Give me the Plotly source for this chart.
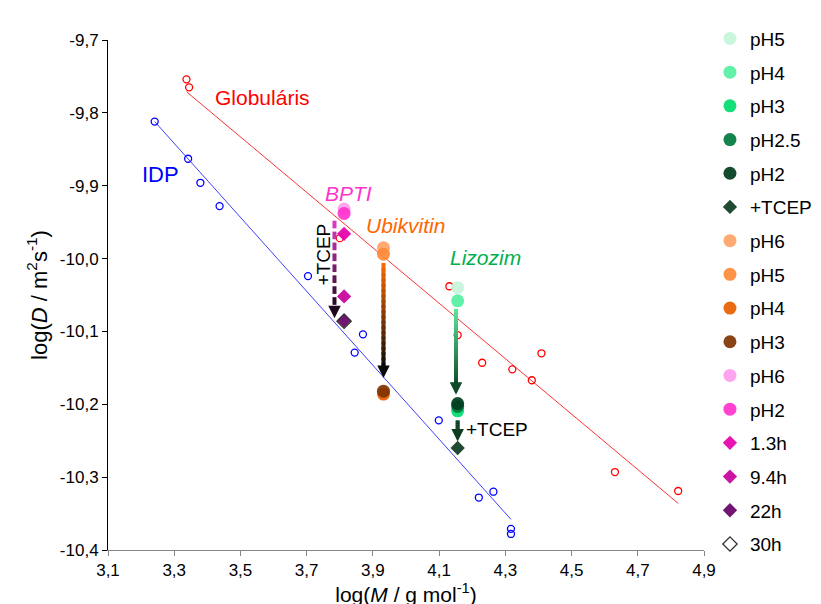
import plotly.graph_objects as go

# ---------------- data ----------------
glob_x = [3.337, 3.345, 3.800, 4.131, 4.156, 4.230, 4.321, 4.380, 4.409, 4.631, 4.822]
glob_y = [-9.754, -9.765, -9.972, -10.038, -10.105, -10.143, -10.152, -10.167, -10.130, -10.293, -10.319]
glob_fit_x = [3.337, 4.822]
glob_fit_y = [-9.771, -10.336]

idp_x = [3.241, 3.342, 3.379, 3.437, 3.704, 3.845, 3.870, 4.099, 4.220, 4.264, 4.317, 4.317]
idp_y = [-9.812, -9.863, -9.896, -9.928, -10.024, -10.129, -10.104, -10.222, -10.328, -10.320, -10.371, -10.378]
idp_fit_x = [3.241, 4.317]
idp_fit_y = [-9.812, -10.358]

# Lizozim
liz_x = 4.156
liz_names = ["pH5", "pH4", "pH3", "pH2.5", "pH2", "+TCEP"]
liz_y = [-10.040, -10.058, -10.209, -10.203, -10.199, -10.260]
liz_colors = ["#C4F5DA", "#55F0A2", "#00DC6E", "#007A3D", "#013D1E", "#0D3B1F"]
liz_symbols = ["circle", "circle", "circle", "circle", "circle", "diamond"]

# Ubikvitin
ubi_x = 3.932
ubi_names = ["pH6", "pH5", "pH4", "pH3"]
ubi_y = [-9.985, -9.994, -10.186, -10.182]
ubi_colors = ["#FFA366", "#FF8A3A", "#E85E00", "#7F3300"]

# BPTI
bpti_x = 3.813
bpti_names = ["pH6", "pH2", "1.3h", "9.4h", "22h", "30h"]
bpti_y = [-9.932, -9.938, -9.966, -10.052, -10.085, -10.086]
bpti_colors = ["#FF9CEE", "#FF33CC", "#E600AA", "#C8009A", "#660066", "rgba(0,0,0,0)"]
bpti_symbols = ["circle", "circle", "diamond", "diamond", "diamond", "diamond-open"]

# arrows (x, start y, tip y)
arrow_x = [3.784, 3.932, 4.151, 4.156]
arrow_y0 = [-9.948, -10.006, -10.069, -10.222]
arrow_y1 = [-10.082, -10.164, -10.187, -10.251]
arrow_c0 = [(230, 60, 200), (255, 106, 0), (94, 232, 156), (14, 61, 32)]
arrow_c1 = [(30, 8, 30), (10, 10, 10), (14, 74, 40), (14, 61, 32)]
arrow_dashed = [True, False, False, False]

x_ticks = [3.1, 3.3, 3.5, 3.7, 3.9, 4.1, 4.3, 4.5, 4.7, 4.9]
x_labels = ["3,1", "3,3", "3,5", "3,7", "3,9", "4,1", "4,3", "4,5", "4,7", "4,9"]
y_ticks = [-9.7, -9.8, -9.9, -10.0, -10.1, -10.2, -10.3, -10.4]
y_labels = ["-9,7", "-9,8", "-9,9", "-10,0", "-10,1", "-10,2", "-10,3", "-10,4"]

FONT = "Liberation Sans, Arial, sans-serif"

fig = go.Figure()

# fit lines
fig.add_trace(go.Scatter(x=glob_fit_x, y=glob_fit_y, mode="lines",
                         line=dict(color="#FF3030", width=1), showlegend=False, hoverinfo="skip"))
fig.add_trace(go.Scatter(x=idp_fit_x, y=idp_fit_y, mode="lines",
                         line=dict(color="#4040FF", width=1), showlegend=False, hoverinfo="skip"))
# open circles
fig.add_trace(go.Scatter(x=glob_x, y=glob_y, mode="markers", showlegend=False,
                         marker=dict(symbol="circle-open", size=7, color="#FF0000", line=dict(width=1.3))))
fig.add_trace(go.Scatter(x=idp_x, y=idp_y, mode="markers", showlegend=False,
                         marker=dict(symbol="circle-open", size=7, color="#0000FF", line=dict(width=1.3))))

# arrows: gradient shafts drawn as short overlapping segments
shapes = []
annotations = []
for ax_, y0, y1, c0, c1, dashed in zip(arrow_x, arrow_y0, arrow_y1, arrow_c0, arrow_c1, arrow_dashed):
    head = 0.014 if abs(y1 - y0) > 0.05 else 0.011
    ybase = y1 + head
    n = 8 if dashed else 20
    for i in range(n):
        t = (i + 0.5) / n
        col = tuple(int(round(a + (b - a) * t)) for a, b in zip(c0, c1))
        ya = y0 + (ybase - y0) * i / n
        if dashed:
            yb = y0 + (ybase - y0) * (i + 0.7) / n
        else:
            yb = y0 + (ybase - y0) * min(i + 1.6, n) / n
        shapes.append(dict(type="line", xref="x", yref="y", x0=ax_, x1=ax_, y0=ya, y1=yb,
                           line=dict(color="rgb(%d,%d,%d)" % col, width=4)))
    annotations.append(dict(x=ax_, y=y1, ax=ax_, ay=ybase + 0.003, xref="x", yref="y",
                            axref="x", ayref="y", showarrow=True, arrowhead=2, arrowsize=1.0,
                            arrowwidth=2.5, arrowcolor="rgb(%d,%d,%d)" % c1, standoff=0, text=""))

# protein series (legend order)
for nm, yv, col, sym in zip(liz_names, liz_y, liz_colors, liz_symbols):
    fig.add_trace(go.Scatter(x=[liz_x], y=[yv], mode="markers", name=nm, legendgroup="l" + nm,
                             marker=dict(symbol=sym, size=13 if sym == "circle" else 11, color=col,
                                         opacity=0.92, line=dict(width=0))))
for nm, yv, col in zip(ubi_names, ubi_y, ubi_colors):
    fig.add_trace(go.Scatter(x=[ubi_x], y=[yv], mode="markers", name=nm, legendgroup="u" + nm,
                             marker=dict(symbol="circle", size=13, color=col, opacity=0.92, line=dict(width=0))))
for nm, yv, col, sym in zip(bpti_names, bpti_y, bpti_colors, bpti_symbols):
    if sym == "diamond-open":
        mk = dict(symbol=sym, size=11, color="#333333", line=dict(width=1.3))
    else:
        mk = dict(symbol=sym, size=13 if sym == "circle" else 11, color=col, opacity=0.92, line=dict(width=0))
    fig.add_trace(go.Scatter(x=[bpti_x], y=[yv], mode="markers", name=nm, legendgroup="b" + nm, marker=mk))

# labels
def lab(text, x, y, color, size=20, italic=False, angle=0, xanchor="center"):
    t = "<i>%s</i>" % text if italic else text
    annotations.append(dict(x=x, y=y, xref="x", yref="y", text=t, showarrow=False,
                            textangle=angle, xanchor=xanchor,
                            font=dict(family=FONT, size=size, color=color)))

lab("Globuláris", 3.568, -9.779, "#FF0000", 21)
lab("IDP", 3.258, -9.884, "#0000FF", 22)
lab("BPTI", 3.825, -9.910, "#FF33CC", 21, italic=True)
lab("Ubikvitin", 3.998, -9.955, "#FF6600", 21, italic=True)
lab("Lizozim", 4.240, -9.999, "#00B050", 21, italic=True)
lab("+TCEP", 3.751, -9.995, "#000000", 19, angle=-90)
lab("+TCEP", 4.176, -10.235, "#000000", 19, xanchor="left")

fig.update_layout(
    width=821, height=604,
    margin=dict(l=100, r=113, t=23, b=62),
    paper_bgcolor="white", plot_bgcolor="white",
    font=dict(family=FONT, size=17, color="#000000"),
    shapes=shapes, annotations=annotations,
    legend=dict(x=1.01, xanchor="left", y=1.04, yanchor="top",
                font=dict(family=FONT, size=19, color="#000000"),
                tracegroupgap=6, itemsizing="trace", bgcolor="rgba(0,0,0,0)",
                maxheight=604),
    showlegend=True,
)
fig.update_xaxes(range=[3.1, 4.9], tickvals=x_ticks, ticktext=x_labels,
                 showgrid=False, zeroline=False, showline=True, linecolor="#868686", linewidth=1,
                 ticks="outside", ticklen=5, tickcolor="#868686",
                 title=dict(text="log(<i>M</i> / g mol<sup>-1</sup>)", font=dict(size=21), standoff=6))
fig.update_yaxes(range=[-10.4, -9.7], tickvals=y_ticks, ticktext=y_labels,
                 showgrid=False, zeroline=False, showline=True, linecolor="#000000", linewidth=1,
                 ticks="outside", ticklen=5, tickcolor="#000000",
                 title=dict(text="log(<i>D</i> / m<sup>2</sup>s<sup>-1</sup>)", font=dict(size=22), standoff=6))

fig.write_html("out.html")
